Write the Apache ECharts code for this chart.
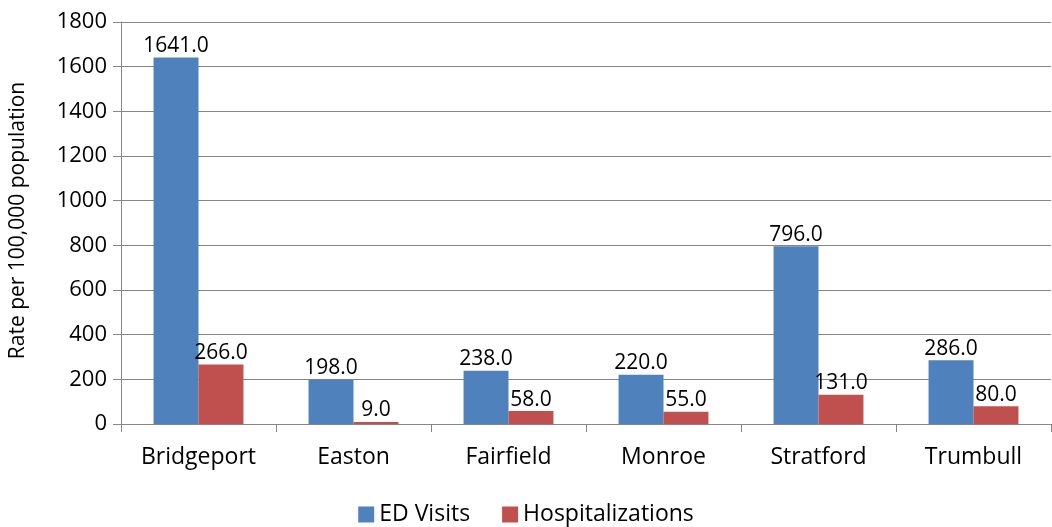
<!DOCTYPE html>
<html><head><meta charset="utf-8">
<script src="https://cdn.jsdelivr.net/npm/echarts@6/dist/echarts.min.js"></script>
<style>html,body{margin:0;padding:0;background:#fff}#c{width:1052px;height:527px}</style>
</head><body><div id="c"></div>
<script>
const categories = ['Bridgeport','Easton','Fairfield','Monroe','Stratford','Trumbull'];
const edVisits = [1641, 198, 238, 220, 796, 286];
const hospitalizations = [266, 9, 58, 55, 131, 80];
const seriesNames = ['ED Visits','Hospitalizations'];
const yAxisTitle = 'Rate per 100,000 population';

const FONT = '"Open Sans", sans-serif';
const chart = echarts.init(document.getElementById('c'));
const lbl = {show:true, position:'top', distance:1, color:'#000', fontSize:21, fontFamily:FONT,
  formatter: p => p.value.toFixed(1)};
chart.setOption({
  animation:false,
  textStyle:{fontFamily:FONT},
  grid:{left:121, right:1, top:22, bottom:103},
  legend:{top:498, left:'center', itemWidth:16, itemHeight:16, itemGap:32, icon:'rect',
    textStyle:{fontSize:23, color:'#000', fontFamily:FONT}, data:seriesNames},
  xAxis:{type:'category', data:categories,
    axisLine:{lineStyle:{color:'#868686', width:1}},
    axisTick:{show:true, length:8, lineStyle:{color:'#868686'}},
    axisLabel:{color:'#000', fontSize:23, margin:22, fontFamily:FONT}},
  yAxis:{type:'value', min:0, max:1800, interval:200,
    name:yAxisTitle, nameLocation:'middle', nameGap:92, nameRotate:90,
    nameTextStyle:{fontSize:21, color:'#000', fontFamily:FONT, padding:[0,0,0,5]},
    axisLine:{show:true, lineStyle:{color:'#868686'}},
    axisTick:{show:true, length:8, lineStyle:{color:'#868686'}},
    axisLabel:{color:'#000', fontSize:22, margin:14, fontFamily:FONT, formatter: v => String(v)},
    splitLine:{lineStyle:{color:'#868686', width:1}}},
  series:[
    {name:seriesNames[0], type:'bar', data:edVisits, barGap:'0%', barCategoryGap:'42%',
      itemStyle:{color:'#4F81BD'}, label:lbl},
    {name:seriesNames[1], type:'bar', data:hospitalizations,
      itemStyle:{color:'#C0504D'}, label:lbl}
  ]
});
</script></body></html>
